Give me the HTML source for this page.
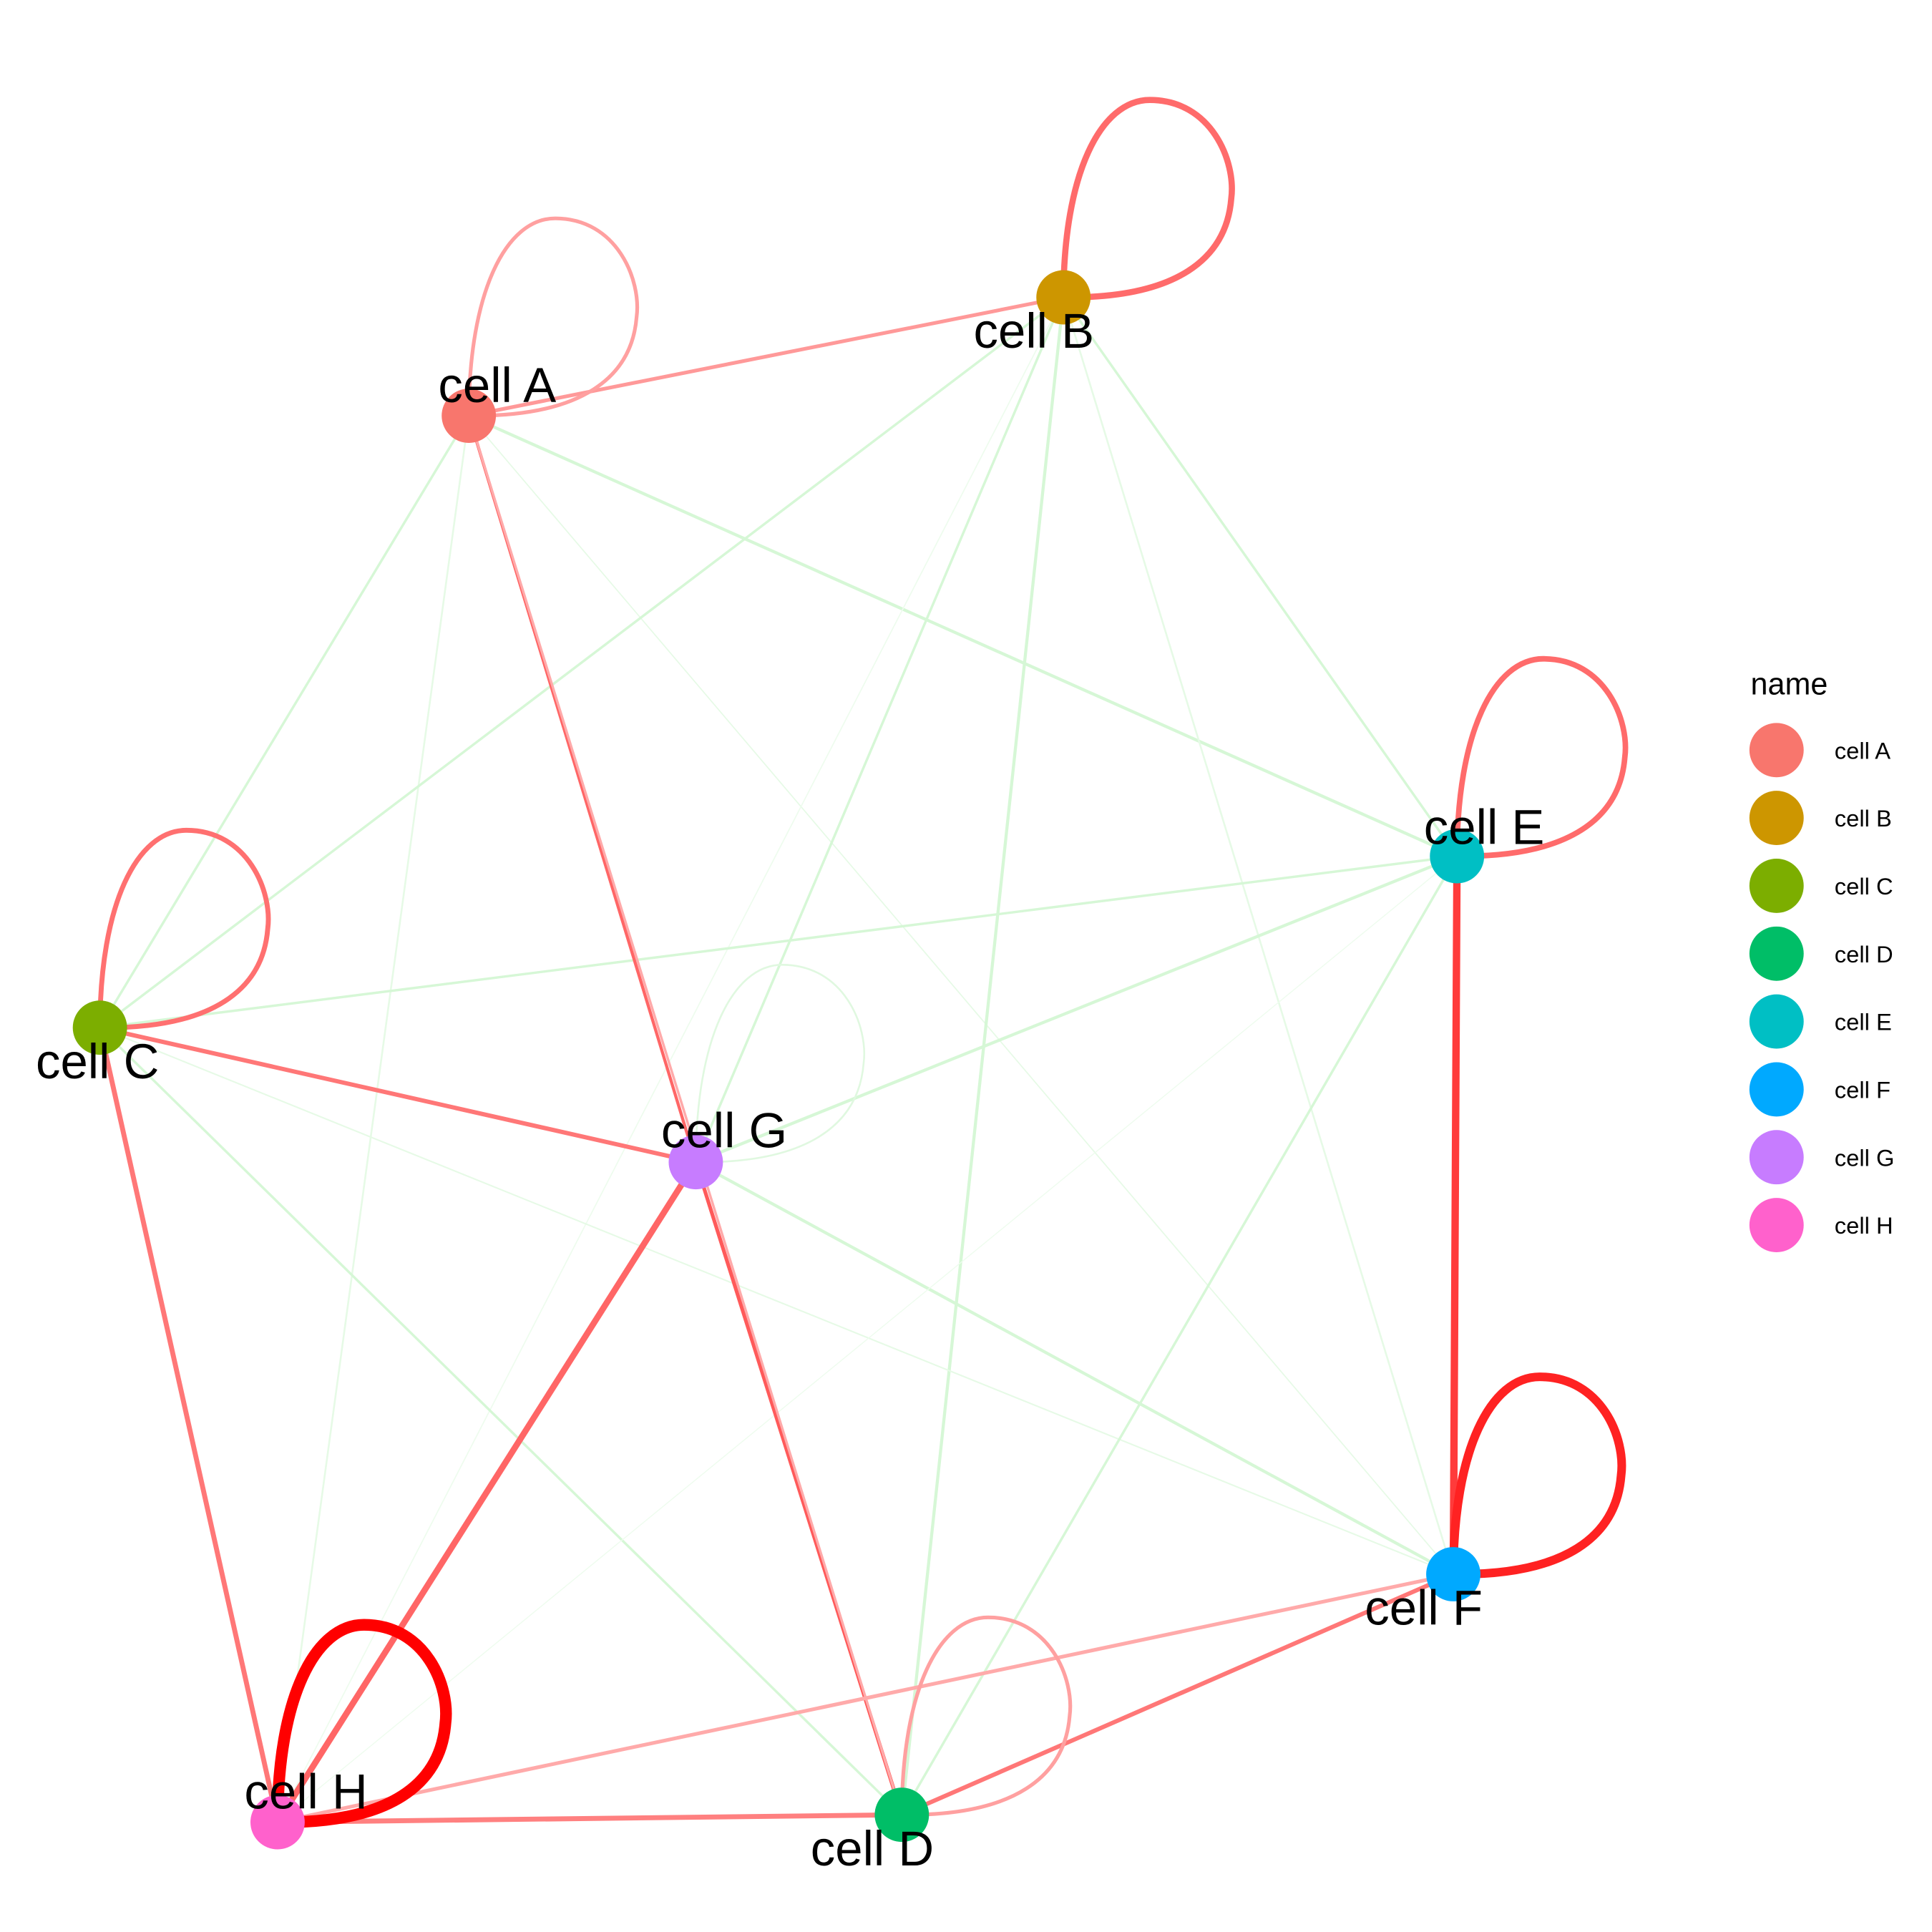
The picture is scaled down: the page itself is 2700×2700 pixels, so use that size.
<!DOCTYPE html>
<html><head><meta charset="utf-8"><style>html,body{margin:0;padding:0;background:#fff}svg{display:block}</style></head>
<body>
<svg width="2700" height="2700" viewBox="0 0 1566 1566" xmlns="http://www.w3.org/2000/svg" font-family="Liberation Sans, Arial, sans-serif">
<rect width="1566" height="1566" fill="#fff"/>
<g stroke-linecap="round" fill="none">
<g stroke="#d6f7d6">
<line x1="380" y1="337" x2="81" y2="833" stroke-width="2"/>
<line x1="380" y1="337" x2="225" y2="1477" stroke-width="1.5" stroke="#e6fae6"/>
<line x1="380" y1="337" x2="1181" y2="694" stroke-width="2.5"/>
<line x1="380" y1="337" x2="1178" y2="1276" stroke-width="1" stroke="#e6fae6"/>
<line x1="862" y1="241" x2="81" y2="833" stroke-width="2"/>
<line x1="862" y1="241" x2="564" y2="942" stroke-width="2"/>
<line x1="862" y1="241" x2="731" y2="1471" stroke-width="2.5"/>
<line x1="862" y1="241" x2="1181" y2="694" stroke-width="2"/>
<line x1="862" y1="241" x2="1178" y2="1276" stroke-width="1.5" stroke="#e6fae6"/>
<line x1="862" y1="241" x2="225" y2="1477" stroke-width="1" stroke="#eefcee"/>
<line x1="81" y1="833" x2="1181" y2="694" stroke-width="2"/>
<line x1="81" y1="833" x2="731" y2="1471" stroke-width="2"/>
<line x1="81" y1="833" x2="1178" y2="1276" stroke-width="1.2" stroke="#e6fae6"/>
<line x1="564" y1="942" x2="1181" y2="694" stroke-width="2.5"/>
<line x1="564" y1="942" x2="1178" y2="1276" stroke-width="2.5"/>
<line x1="1181" y1="694" x2="731" y2="1471" stroke-width="2"/>
<line x1="1181" y1="694" x2="225" y2="1477" stroke-width="0.8" stroke="#eefcee"/>
</g>
<path d="M564 942 C564 842 594 782 634 782 C684 782 704 832 700 862 C696 912 654 942 569 942" stroke="#e0f8e0" stroke-width="1.5"/>
<line x1="380" y1="337" x2="862" y2="241" stroke="#ff9999" stroke-width="3"/>
<line x1="380" y1="337" x2="564" y2="942" stroke="#ff6666" stroke-width="2.5"/>
<line x1="564" y1="942" x2="731" y2="1471" stroke="#ff5a5a" stroke-width="3"/>
<line x1="380" y1="337" x2="731" y2="1471" stroke="#ffaaaa" stroke-width="2"/>
<line x1="81" y1="833" x2="564" y2="942" stroke="#ff7777" stroke-width="3.5"/>
<line x1="81" y1="833" x2="225" y2="1477" stroke="#ff7777" stroke-width="4"/>
<line x1="564" y1="942" x2="225" y2="1477" stroke="#ff6666" stroke-width="5"/>
<line x1="225" y1="1477" x2="731" y2="1471" stroke="#ff8080" stroke-width="4"/>
<line x1="225" y1="1477" x2="1178" y2="1276" stroke="#ffaaaa" stroke-width="3"/>
<line x1="731" y1="1471" x2="1178" y2="1276" stroke="#ff7777" stroke-width="3.5"/>
<line x1="1181" y1="694" x2="1178" y2="1276" stroke="#ff3b3b" stroke-width="6"/>
<path d="M380 337 C380 237 410 177 450 177 C500 177 520 227 516 257 C512 307 470 337 385 337" stroke="#ffa0a0" stroke-width="3"/>
<path d="M862 241 C862 141 892 81 932 81 C982 81 1002 131 998 161 C994 211 952 241 867 241" stroke="#ff6b6b" stroke-width="5"/>
<path d="M81 833 C81 733 111 673 151 673 C201 673 221 723 217 753 C213 803 171 833 86 833" stroke="#ff7070" stroke-width="4"/>
<path d="M731 1471 C731 1371 761 1311 801 1311 C851 1311 871 1361 867 1391 C863 1441 821 1471 736 1471" stroke="#ffa0a0" stroke-width="3"/>
<path d="M1181 694 C1181 594 1211 534 1251 534 C1301 534 1321 584 1317 614 C1313 664 1271 694 1186 694" stroke="#ff6b6b" stroke-width="4.5"/>
<path d="M1178 1276 C1178 1176 1208 1116 1248 1116 C1298 1116 1318 1166 1314 1196 C1310 1246 1268 1276 1183 1276" stroke="#ff2222" stroke-width="7"/>
<path d="M225 1477 C225 1377 255 1317 295 1317 C345 1317 365 1367 361 1397 C357 1447 315 1477 230 1477" stroke="#ff0000" stroke-width="9.5"/>
</g>
<circle cx="380" cy="337" r="22" fill="#F8766D"/>
<circle cx="862" cy="241" r="22" fill="#CD9600"/>
<circle cx="81" cy="833" r="22" fill="#7CAE00"/>
<circle cx="731" cy="1471" r="22" fill="#00BE67"/>
<circle cx="1181" cy="694" r="22" fill="#00BFC4"/>
<circle cx="1178" cy="1276" r="22" fill="#00A9FF"/>
<circle cx="564" cy="942" r="22" fill="#C77CFF"/>
<circle cx="225" cy="1477" r="22" fill="#FF61CC"/>
<g font-size="40" fill="#000" text-anchor="middle">
<text x="403" y="326">cell A</text>
<text x="838" y="282">cell B</text>
<text x="79" y="874">cell C</text>
<text x="707" y="1512">cell D</text>
<text x="1203" y="684">cell E</text>
<text x="1154" y="1317">cell F</text>
<text x="587" y="930">cell G</text>
<text x="248" y="1466">cell H</text>
</g>
<text x="1419" y="563" font-size="25" fill="#000">name</text>
<g font-size="19" fill="#000">
<circle cx="1440" cy="608" r="22" fill="#F8766D"/><text x="1487" y="615">cell A</text>
<circle cx="1440" cy="663" r="22" fill="#CD9600"/><text x="1487" y="670">cell B</text>
<circle cx="1440" cy="718" r="22" fill="#7CAE00"/><text x="1487" y="725">cell C</text>
<circle cx="1440" cy="773" r="22" fill="#00BE67"/><text x="1487" y="780">cell D</text>
<circle cx="1440" cy="828" r="22" fill="#00BFC4"/><text x="1487" y="835">cell E</text>
<circle cx="1440" cy="883" r="22" fill="#00A9FF"/><text x="1487" y="890">cell F</text>
<circle cx="1440" cy="938" r="22" fill="#C77CFF"/><text x="1487" y="945">cell G</text>
<circle cx="1440" cy="993" r="22" fill="#FF61CC"/><text x="1487" y="1000">cell H</text>
</g>
</svg>
</body></html>
